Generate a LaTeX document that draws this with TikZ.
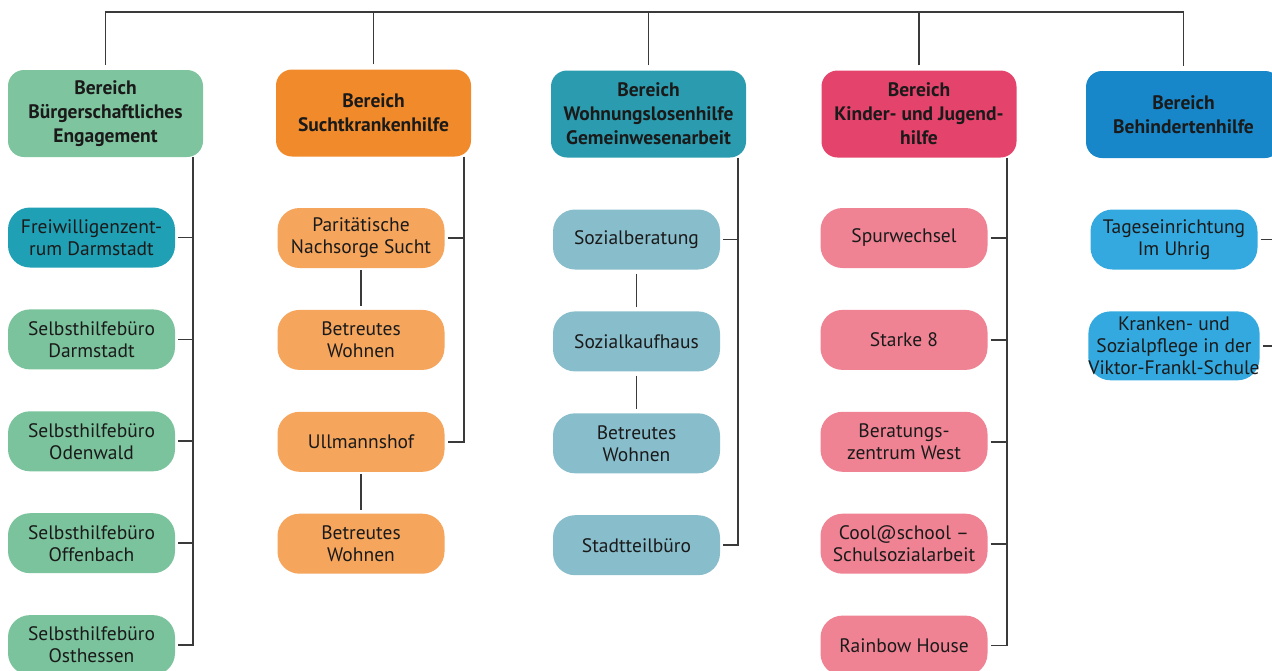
\documentclass[tikz,border=0pt]{standalone}
\usepackage{fontspec}
\setmainfont{PT Sans}
\usepackage{tikz}
\usetikzlibrary{positioning,calc}
\definecolor{gruenkopf}{HTML}{7EC49E}
\definecolor{gruenkind}{HTML}{7BC39C}
\definecolor{tuerkis}{HTML}{1FA0B4}
\definecolor{orangekopf}{HTML}{F08A2B}
\definecolor{orangekind}{HTML}{F5A55C}
\definecolor{petrolkopf}{HTML}{2B9CAF}
\definecolor{petrolkind}{HTML}{88BDCB}
\definecolor{rotkopf}{HTML}{E4436B}
\definecolor{rotkind}{HTML}{EF8393}
\definecolor{blaukopf}{HTML}{1787C9}
\definecolor{blaukind}{HTML}{33A9DF}
\definecolor{schrift}{HTML}{1A1A1A}
\definecolor{strich}{HTML}{3A3A3A}

\begin{document}
\begin{tikzpicture}[x=1pt,y=-1pt,node distance=41.5pt, every node/.style={font=\fontsize{19.5}{22}\selectfont,text=schrift}]
\tikzstyle{kopf}=[rounded corners=16pt,align=center,minimum width=195pt,minimum height=87pt,inner sep=0pt,font=\bfseries\fontsize{19.5}{24}\selectfont]
\tikzstyle{stelle}=[rounded corners=22pt,align=center,minimum width=167pt,minimum height=60pt,inner xsep=0pt,inner ysep=5.5pt]
\tikzstyle{verb}=[line width=1.7pt,draw=strich]
\useasboundingbox (0,0) rectangle (1272,670);
\node[kopf,fill=gruenkopf] (bue) at (105.5,113.5) {Bereich\\Bürgerschaftliches\\Engagement};
\node[kopf,fill=orangekopf] (sucht) at (373.5,113) {Bereich\\Suchtkrankenhilfe};
\node[kopf,fill=petrolkopf] (wohn) at (648.5,114) {Bereich\\Wohnungslosenhilfe\\Gemeinwesenarbeit};
\node[kopf,fill=rotkopf] (kind) at (919,114) {Bereich\\Kinder- und Jugend-\\hilfe};
\node[kopf,fill=blaukopf] (beh) at (1183.5,114.5) {Bereich\\Behindertenhilfe};
\node[stelle,fill=tuerkis] (bue1) at (91.5,237.5) {Freiwilligenzent-\\rum Darmstadt};
\node[stelle,fill=gruenkind,below=of bue1] (bue2) {Selbsthilfebüro\\Darmstadt};
\node[stelle,fill=gruenkind,below=of bue2] (bue3) {Selbsthilfebüro\\Odenwald};
\node[stelle,fill=gruenkind,below=of bue3] (bue4) {Selbsthilfebüro\\Offenbach};
\node[stelle,fill=gruenkind,below=of bue4] (bue5) {Selbsthilfebüro\\Osthessen};
\node[stelle,fill=orangekind] (sucht1) at (361,238) {Paritätische\\Nachsorge Sucht};
\node[stelle,fill=orangekind,below=of sucht1] (sucht2) {Betreutes\\Wohnen};
\node[stelle,fill=orangekind,below=of sucht2] (sucht3) {Ullmannshof};
\node[stelle,fill=orangekind,below=of sucht3] (sucht4) {Betreutes\\Wohnen};
\node[stelle,fill=petrolkind] (wohn1) at (636.5,239.5) {Sozialberatung};
\node[stelle,fill=petrolkind,below=of wohn1] (wohn2) {Sozialkaufhaus};
\node[stelle,fill=petrolkind,below=of wohn2] (wohn3) {Betreutes\\Wohnen};
\node[stelle,fill=petrolkind,below=of wohn3] (wohn4) {Stadtteilbüro};
\node[stelle,fill=rotkind] (kind1) at (904,238) {Spurwechsel};
\node[stelle,fill=rotkind,below=of kind1] (kind2) {Starke 8};
\node[stelle,fill=rotkind,below=of kind2] (kind3) {Beratungs-\\zentrum West};
\node[stelle,fill=rotkind,below=of kind3] (kind4) {Cool@school --\\Schulsozialarbeit};
\node[stelle,fill=rotkind,below=of kind4] (kind5) {Rainbow House};
\node[stelle,fill=blaukind] (beh1) at (1174,239.5) {Tageseinrichtung\\Im Uhrig};
\node[stelle,fill=blaukind,below=of beh1] (beh2) {Kranken- und\\Sozialpflege in der\\Viktor-Frankl-Schule};
\coordinate (oben) at (0,12);
\draw[verb] ([yshift=5pt]bue.north) -- (bue.north |- oben) -- (beh.north |- oben) -- ([yshift=5pt]beh.north);
\foreach \k in {sucht,wohn,kind} \draw[verb] ([yshift=5pt]\k.north) -- (\k.north |- oben);
\coordinate (k1) at ($(bue1.east)+(18,0)$);
\draw[verb] (bue.south -| k1) |- ([xshift=3pt]bue5.east);
\foreach \i in {1,...,4} \draw[verb] ([xshift=3pt]bue\i.east) -- (bue\i.east -| k1);
\coordinate (k2) at ($(sucht1.east)+(19,0)$);
\draw[verb] (sucht.south -| k2) |- ([xshift=3pt]sucht3.east);
\draw[verb] ([xshift=3pt]sucht1.east) -- (sucht1.east -| k2);
\foreach \a/\b in {sucht1/sucht2,sucht3/sucht4} \draw[verb] ([yshift=-2pt]\a.south) -- ([yshift=4pt]\b.north);
\coordinate (k3) at ($(wohn1.east)+(18,0)$);
\draw[verb] (wohn.south -| k3) |- ([xshift=3pt]wohn4.east);
\draw[verb] ([xshift=3pt]wohn1.east) -- (wohn1.east -| k3);
\foreach \a/\b in {wohn1/wohn2,wohn2/wohn3} \draw[verb] ([yshift=-4pt]\a.south) -- ([yshift=4pt]\b.north);
\coordinate (k4) at ($(kind1.east)+(19,0)$);
\draw[verb] (kind.south -| k4) |- ([xshift=3pt]kind5.east);
\foreach \i in {1,...,4} \draw[verb] ([xshift=3pt]kind\i.east) -- (kind\i.east -| k4);
\coordinate (k5) at ($(beh1.east)+(18,0)$);
\draw[verb] (beh.south -| k5) |- ([xshift=3pt]beh2.east);
\draw[verb] ([xshift=3pt]beh1.east) -- (beh1.east -| k5);
\end{tikzpicture}
\end{document}
